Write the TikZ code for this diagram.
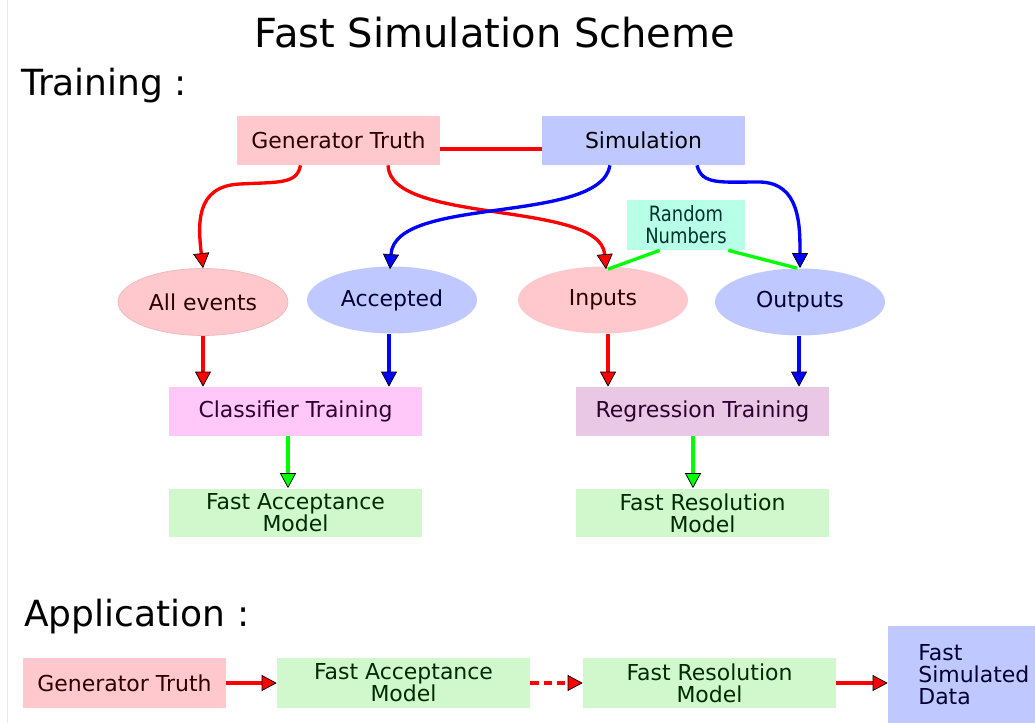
\documentclass[tikz,border=0pt]{standalone}
\usepackage{fontspec}
\setmainfont{DejaVu Sans}
\usepackage{graphicx}
\usepackage{tikz}
\usetikzlibrary{arrows.meta,shapes.geometric,calc}
\definecolor{fspink}{HTML}{FFC8CC}
\definecolor{fsblue}{HTML}{BFC8FF}
\definecolor{fsmagenta}{HTML}{FFC8F8}
\definecolor{fsmauve}{HTML}{E8C8E4}
\definecolor{fsgreen}{HTML}{D0F8CC}
\definecolor{fsmint}{HTML}{B8FFE8}
\definecolor{fsred}{HTML}{FF0000}
\definecolor{fsdblue}{HTML}{0000FF}
\definecolor{fsdgreen}{HTML}{00FF00}
\definecolor{txmaroon}{HTML}{2A0000}
\definecolor{txnavy}{HTML}{000033}
\definecolor{txpurple}{HTML}{2E0030}
\definecolor{txgreen}{HTML}{002B00}
\definecolor{txteal}{HTML}{00332A}
\newcommand{\boxfont}{\fontsize{12.5}{12.5}\selectfont}

\begin{document}
\begin{tikzpicture}[x=0.02cm,y=-0.02cm,
    box/.style={rectangle, inner sep=0pt, minimum width=4.06cm, minimum height=0.98cm,
                font=\boxfont, align=center},
    widebox/.style={box, minimum width=5.06cm},
    oval/.style={ellipse, inner sep=0pt, minimum width=3.4cm, minimum height=1.34cm,
                 font=\boxfont},
    head/.style={inner sep=0pt, font=\fontsize{20.5}{22}\selectfont},
    link/.style={line width=1.9pt},
    redarr/.style={link, fsred, -{Triangle[length=0.3cm, width=0.32cm, color=black, fill=fsred, line width=0.4pt]}},
    bluearr/.style={link, fsdblue, -{Triangle[length=0.3cm, width=0.32cm, color=black, fill=fsdblue, line width=0.4pt]}},
    greenarr/.style={link, fsdgreen, -{Triangle[length=0.3cm, width=0.32cm, color=black, fill=fsdgreen, line width=0.4pt]}}]

  \useasboundingbox (0,0) rectangle (1035,723);
  \draw[black!8] (7,0) -- (7,723);

  % -- headings --
  \node[head, anchor=base, font=\fontsize{22.8}{24}\selectfont] (title) at (495,48) {Fast Simulation Scheme};
  \node[head, anchor=base west] (train) at (21,96) {Training :};
  \node[head, anchor=base west] (appl) at (24,626) {Application :};

  % -- training: sources --
  \node[box, fill=fspink, text=txmaroon] (gen) at (338.5,140.5) {Generator Truth};
  \node[box, fill=fsblue] (sim) at (643.5,140.5) {Simulation};
  \node[rectangle, inner sep=0pt, minimum width=2.36cm, minimum height=1cm, fill=fsmint,
        text=txteal, align=center, font=\fontsize{12}{12.5}\selectfont] (rnd) at (686,225)
        {\scalebox{0.85}[1]{Random}\\\scalebox{0.85}[1]{Numbers}};

  % -- training: samples --
  \node[oval, fill=fspink, draw=fspink!80!black!40!fspink, line width=0.4pt, text=txmaroon] (allev) at (203,302) {All events};
  \node[oval, fill=fsblue, text=txnavy] (acc) at (392,300) {Accepted};
  \node[oval, fill=fspink, text=txmaroon] (inp) at (603,300) {Inputs};
  \node[oval, fill=fsblue, text=txnavy] (outp) at (800,302) {Outputs};

  % -- training: fits and models --
  \node[widebox, fill=fsmagenta, text=txpurple] (cls) at (295.5,411.5) {Classifier Training};
  \node[widebox, fill=fsmauve, text=txpurple] (reg) at (702.5,411.5) {Regression Training};
  \node[widebox, fill=fsgreen, text=txgreen] (fam) at (295.5,513) {Fast Acceptance\\Model};
  \node[widebox, fill=fsgreen, text=txgreen] (frm) at (702.5,513) {Fast Resolution\\Model};

  % -- training: connectors --
  \draw[link, fsred] ($(gen.east)+(0,8.5)$) -- ($(sim.west)+(0,8.5)$);
  \draw[redarr] ($(gen.south)+(-38,0)$) .. controls (297,184) and (280,182) .. (240,184)
                .. controls (195,186) and (198,225) .. (allev.north);
  \draw[redarr] ($(gen.south)+(49.5,0)$) .. controls (390,225) and (600,200) .. ($(inp.north)+(3,3)$);
  \draw[bluearr] ($(sim.south)+(-33.5,0)$) .. controls (600,225) and (395,195) .. ($(acc.north)+(-2,3)$);
  \draw[bluearr] ($(sim.south)+(53.5,0)$) .. controls (702,185) and (720,182) .. (760,182)
                 .. controls (800,183) and (800,225) .. (outp.north);
  \draw[link, fsdgreen] ($(rnd.south west)+(33,0)$) -- ($(inp.north)+(5,3)$);
  \draw[link, fsdgreen] ($(rnd.south east)+(-17,0)$) -- ($(outp.north)+(-3,0)$);

  \draw[redarr] (allev.south) -- (allev.south |- cls.north);
  \draw[bluearr] ($(acc.south)+(-3,0)$) -- ($(acc.south |- cls.north)+(-3,0)$);
  \draw[redarr] ($(inp.south)+(5,0)$) -- ($(inp.south |- reg.north)+(5,0)$);
  \draw[bluearr] ($(outp.south)+(-1,0)$) -- ($(outp.south |- reg.north)+(-1,0)$);
  \draw[greenarr] ($(cls.south)+(-7.5,0)$) -- ($(cls.south |- fam.north)+(-7.5,0)$);
  \draw[greenarr] ($(reg.south)+(-9.5,0)$) -- ($(reg.south |- frm.north)+(-9.5,0)$);

  % -- application chain --
  \node[box, minimum height=1cm, fill=fspink, text=txmaroon] (gen2) at (124.5,683) {Generator Truth};
  \node[widebox, minimum height=1cm, fill=fsgreen, text=txgreen] (fam2) at (403.5,683) {Fast Acceptance\\Model};
  \node[widebox, minimum height=1cm, fill=fsgreen, text=txgreen] (frm2) at (709.5,683) {Fast Resolution\\Model};
  \node[rectangle, inner sep=0pt, minimum width=2.94cm, minimum height=1.94cm, fill=fsblue] (fsd) at (961.5,674.5) {};
  \node[anchor=west, inner sep=0pt, align=left, font=\boxfont, text=txnavy] (fsdtxt) at (918,674.5) {Fast\\Simulated\\Data};

  \draw[redarr, line width=2.3pt] (gen2) -- (fam2);
  \draw[redarr, line width=2.3pt, dash pattern=on 5pt off 2.5pt] (fam2) -- (frm2);
  \draw[redarr, line width=2.3pt] (frm2.east) -- (frm2.east -| fsd.west);
\end{tikzpicture}
\end{document}
